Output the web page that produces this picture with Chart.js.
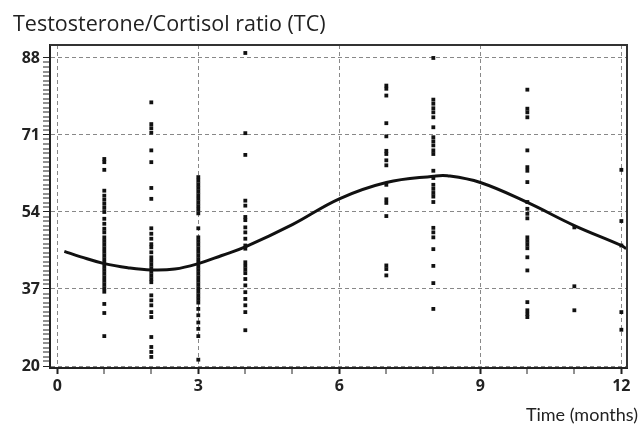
<!DOCTYPE html>
<html>
<head>
<meta charset="utf-8">
<script src="https://cdn.jsdelivr.net/npm/chart.js@4.4.0/dist/chart.umd.min.js"></script>
<style>
  html, body { margin: 0; padding: 0; background: #fff; }
  #wrap { width: 642px; height: 426px; }
</style>
</head>
<body>
<div id="wrap"><canvas id="myChart"></canvas></div>
<script>
var months = [1, 2, 3, 4, 7, 8, 10, 11, 12];
var tc_m1 = [65.7, 65.0, 63.3, 58.7, 57.6, 56.7, 55.8, 54.9, 54.0, 52.5, 51.4, 50.3, 49.5, 48.4, 47.6, 46.8, 46.0, 45.2, 44.4, 43.6, 42.8, 42.0, 41.2, 40.4, 39.6, 38.8, 38.0, 37.2, 36.4, 33.7, 31.7, 26.6];
var tc_m2 = [78.2, 73.4, 72.5, 71.5, 67.6, 65.0, 59.3, 56.9, 50.4, 49.2, 48.1, 46.9, 46.2, 45.1, 44.0, 43.2, 42.4, 41.6, 40.8, 40.0, 39.2, 38.5, 35.6, 34.5, 33.4, 31.9, 30.8, 26.4, 24.2, 23.1, 22.0];
var tc_m3 = [61.7, 60.9, 60.1, 59.3, 58.5, 57.7, 56.9, 56.1, 55.3, 54.5, 53.7, 50.4, 48.4, 47.6, 46.8, 46.0, 45.2, 44.4, 43.6, 42.8, 42.0, 41.2, 40.4, 39.6, 38.8, 38.0, 37.2, 36.4, 35.6, 34.8, 34.0, 32.6, 31.2, 29.6, 28.2, 26.6, 21.4];
var tc_m4 = [89.1, 71.4, 66.6, 56.5, 55.4, 52.9, 52.2, 50.6, 49.5, 48.1, 46.6, 45.9, 42.9, 42.1, 41.3, 40.5, 39.2, 37.8, 36.3, 34.8, 33.4, 31.9, 27.9];
var tc_m7 = [81.9, 81.2, 79.7, 73.6, 70.7, 67.5, 66.8, 65.4, 64.3, 60.0, 56.8, 56.0, 53.1, 42.2, 41.4, 40.0];
var tc_m8 = [88.0, 78.8, 77.9, 76.9, 76.0, 74.9, 72.7, 70.5, 69.6, 68.7, 67.6, 66.8, 63.1, 61.5, 60.0, 59.1, 58.2, 57.4, 56.2, 50.5, 49.5, 48.4, 45.8, 42.1, 38.3, 32.6];
var tc_m10 = [81.0, 76.8, 76.0, 74.9, 67.6, 63.9, 63.1, 60.6, 56.2, 54.7, 53.6, 52.6, 48.4, 47.6, 46.8, 46.0, 44.0, 41.1, 34.1, 32.3, 31.5, 30.8];
var tc_m11 = [50.6, 37.6, 32.3];
var tc_m12 = [63.3, 52.0, 46.6, 31.9, 28.0];
var tcByMonth = [tc_m1, tc_m2, tc_m3, tc_m4, tc_m7, tc_m8, tc_m10, tc_m11, tc_m12];

// fitted curve
var fitMonths = [0.15, 0.5, 1, 1.5, 2, 2.5, 3, 3.5, 4, 5, 6, 7, 8, 8.3, 9, 10, 11, 12, 12.1];
var fitTC = [45.3, 44.1, 42.6, 41.7, 41.2, 41.4, 42.6, 44.4, 46.3, 51.2, 56.9, 60.5, 61.9, 62.0, 60.5, 56.1, 51.0, 46.6, 45.9];

var xTickLabels = [0, 3, 6, 9, 12];
var yTickLabels = [20, 37, 54, 71, 88];

var points = [];
months.forEach(function (m, i) {
    tcByMonth[i].forEach(function (v) {
        points.push({x: m, y: v});
    });
});
var curve = fitMonths.map(function (m, i) { return {x: m, y: fitTC[i]}; });

var xMinor = [];
for (var i = 0; i <= 12; i++) xMinor.push(i);
var yMinor = [];
for (var j = 20; j <= 88; j++) yMinor.push(j);

function isMajor(list, ctx) {
    return ctx.tick && list.indexOf(ctx.tick.value) !== -1;
}

var frameAndTitles = {
    id: 'frameAndTitles',
    afterDraw: function (chart) {
        var c = chart.ctx, a = chart.chartArea;
        c.save();
        c.strokeStyle = '#333';
        c.lineWidth = 2;
        c.beginPath();
        c.moveTo(a.left, a.top);
        c.lineTo(a.right, a.top);
        c.lineTo(a.right, a.bottom);
        c.stroke();
        c.fillStyle = '#222';
        c.textBaseline = 'alphabetic';
        c.textAlign = 'left';
        c.font = '21.5px "Open Sans"';
        c.fillText('Testosterone/Cortisol ratio (TC)', 13, 31);
        c.textAlign = 'right';
        c.font = '18px Lato';
        c.fillText('Time (months)', 638, 421);
        c.restore();
    }
};

var ctx = document.getElementById('myChart').getContext('2d');
var myChart = new Chart(ctx, {
    type: 'scatter',
    data: {
        datasets: [{
            label: 'TC',
            data: points,
            pointStyle: 'rect',
            pointRadius: 2.7,
            backgroundColor: '#111',
            borderWidth: 0
        }, {
            label: 'fit',
            data: curve,
            showLine: true,
            pointRadius: 0,
            borderColor: '#111',
            borderWidth: 3,
            tension: 0.4
        }]
    },
    options: {
        responsive: true,
        maintainAspectRatio: false,
        animation: false,
        layout: { padding: { top: 45, right: 15, left: 0, bottom: 0 } },
        plugins: {
            legend: { display: false },
            tooltip: { enabled: false }
        },
        scales: {
            x: {
                type: 'linear',
                min: -0.155,
                max: 12.12,
                afterBuildTicks: function (s) { s.ticks = xMinor.map(function (v) { return {value: v}; }); },
                afterFit: function (s) { s.height = 58; },
                ticks: {
                    autoSkip: false,
                    maxRotation: 0,
                    padding: 3,
                    color: '#222',
                    font: { family: '"Open Sans"', size: 16, weight: 'bold' },
                    callback: function (v) { return xTickLabels.indexOf(v) !== -1 ? String(v) : ''; }
                },
                grid: {
                    color: '#888',
                    lineWidth: function (c) { return isMajor(xTickLabels, c) ? 1 : 0; },
                    tickWidth: function (c) { return isMajor(xTickLabels, c) ? 2 : 1; },
                    tickColor: '#222',
                    tickLength: 6
                },
                border: { display: true, color: '#222', width: 2, dash: [4, 3] }
            },
            y: {
                type: 'linear',
                min: 19.56,
                max: 90.86,
                afterBuildTicks: function (s) { s.ticks = yMinor.map(function (v) { return {value: v}; }); },
                afterFit: function (s) { s.width = 50; },
                ticks: {
                    autoSkip: false,
                    padding: 3,
                    color: '#222',
                    font: { family: '"Open Sans"', size: 16, weight: 'bold' },
                    callback: function (v) { return yTickLabels.indexOf(v) !== -1 ? String(v) : ''; }
                },
                grid: {
                    color: '#888',
                    lineWidth: function (c) { return isMajor(yTickLabels, c) ? 1 : 0; },
                    tickWidth: 1,
                    tickColor: '#222',
                    tickLength: 7
                },
                border: { display: true, color: '#222', width: 2, dash: [4, 3] }
            }
        }
    },
    plugins: [frameAndTitles]
});
</script>
</body>
</html>
